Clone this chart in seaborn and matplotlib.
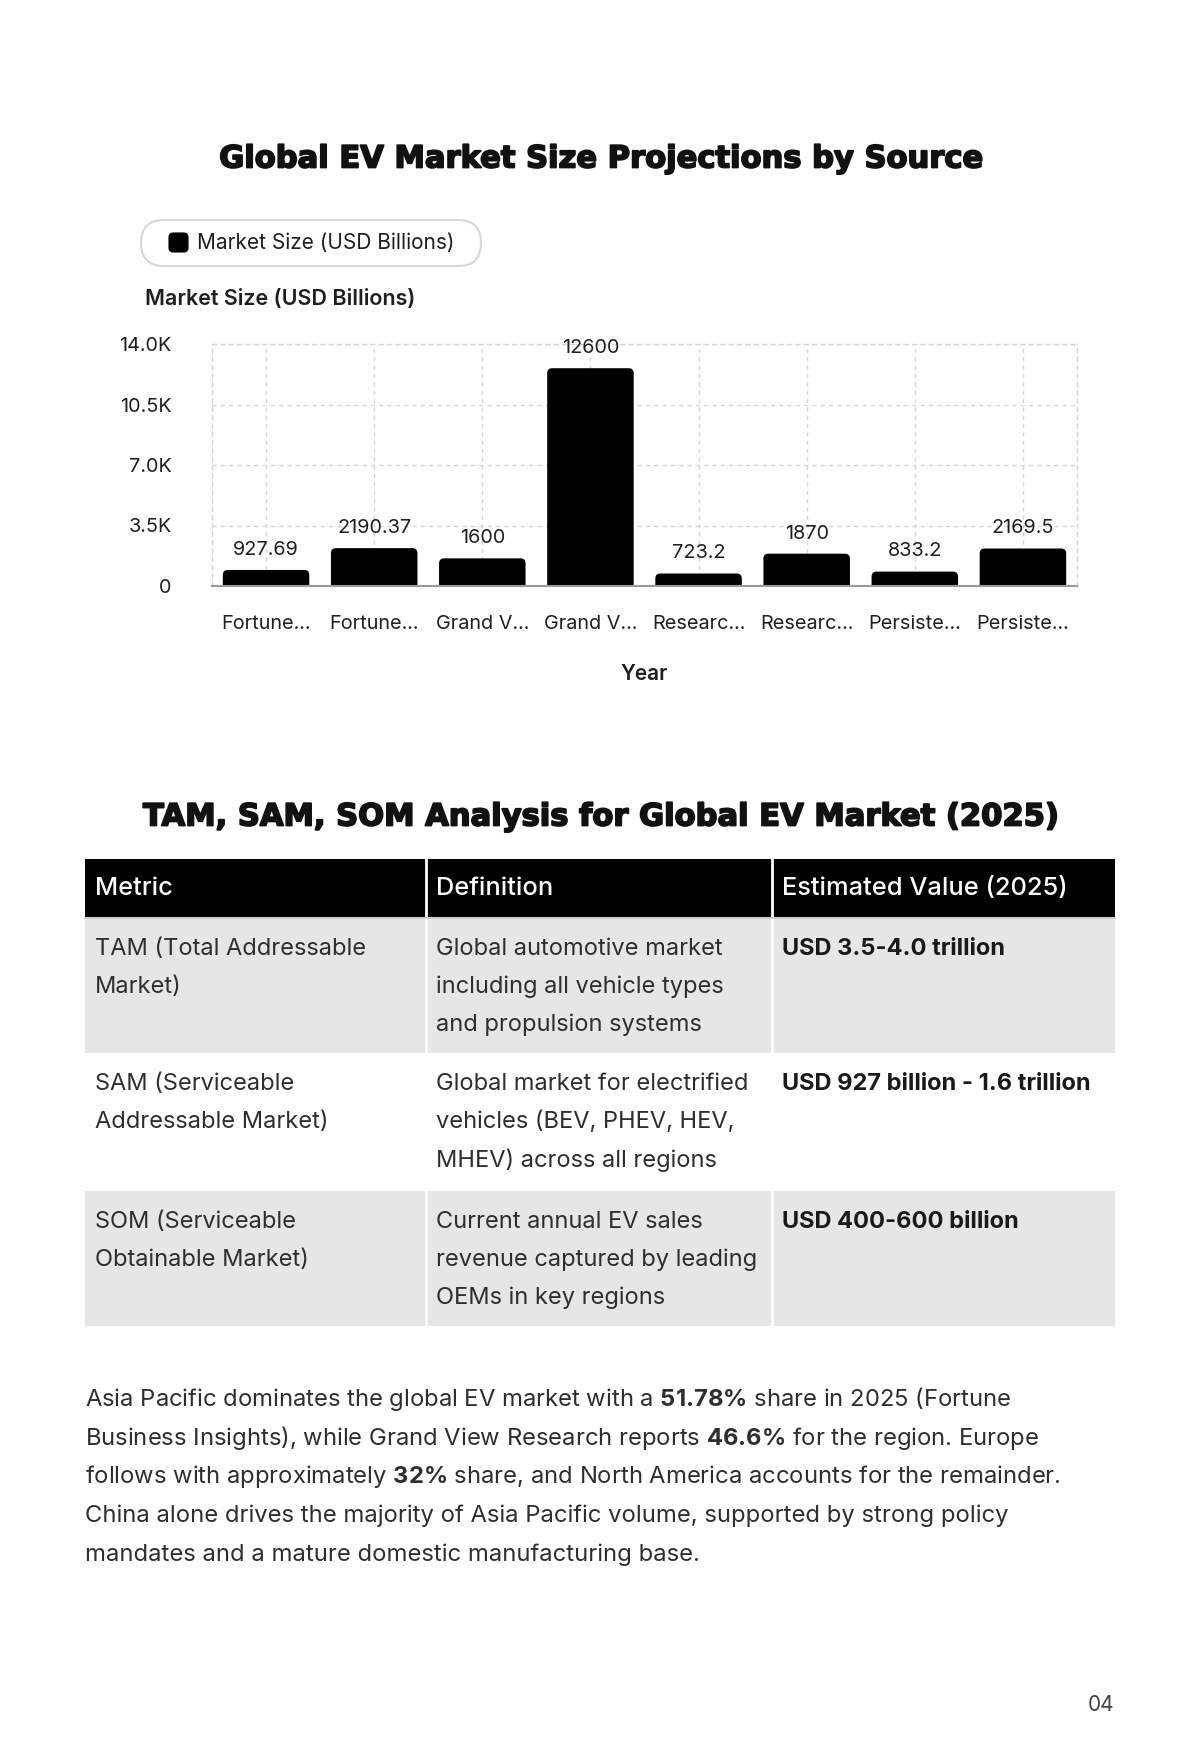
import matplotlib
matplotlib.use("Agg")
import matplotlib.pyplot as plt
import matplotlib.patheffects as pe
import pandas as pd
import seaborn as sns
from matplotlib.patches import FancyBboxPatch, Rectangle
from matplotlib.lines import Line2D
from matplotlib.ticker import FuncFormatter

# ---- chart data ----
sources = ["Fortune Business Insights 2025", "Fortune Business Insights 2032",
           "Grand View Research 2025", "Grand View Research 2033",
           "Research and Markets 2025", "Research and Markets 2030",
           "Persistence Market Research 2025", "Persistence Market Research 2032"]
tick_labels = ["Fortune...", "Fortune...", "Grand V...", "Grand V...",
               "Researc...", "Researc...", "Persiste...", "Persiste..."]
market_size = [927.69, 2190.37, 1600, 12600, 723.2, 1870, 833.2, 2169.5]
y_ticks = [0, 3500, 7000, 10500, 14000]

# ---- table data ----
table_header = ["Metric", "Definition", "Estimated Value (2025)"]
metrics = ["TAM (Total Addressable\nMarket)",
           "SAM (Serviceable\nAddressable Market)",
           "SOM (Serviceable\nObtainable Market)"]
definitions = ["Global automotive market\nincluding all vehicle types\nand propulsion systems",
               "Global market for electrified\nvehicles (BEV, PHEV, HEV,\nMHEV) across all regions",
               "Current annual EV sales\nrevenue captured by leading\nOEMs in key regions"]
estimates = ["USD 3.5-4.0 trillion", "USD 927 billion - 1.6 trillion", "USD 400-600 billion"]

paragraph = [
    r"Asia Pacific dominates the global EV market with a $\bf{51.78\%}$ share in 2025 (Fortune",
    r"Business Insights), while Grand View Research reports $\bf{46.6\%}$ for the region. Europe",
    r"follows with approximately $\bf{32\%}$ share, and North America accounts for the remainder.",
    r"China alone drives the majority of Asia Pacific volume, supported by strong policy",
    r"mandates and a mature domestic manufacturing base.",
]

sns.set_theme(style="white")
plt.rcParams["font.family"] = ["Inter", "DejaVu Sans"]
plt.rcParams["mathtext.fontset"] = "custom"
plt.rcParams["mathtext.rm"] = "Inter"
plt.rcParams["mathtext.bf"] = "Inter:bold"

W, H = 1200, 1754
fig = plt.figure(figsize=(W / 100, H / 100), dpi=100)
fig.patch.set_facecolor("white")

# page axes in pixel coordinates
page = fig.add_axes([0, 0, 1, 1])
page.set_xlim(0, W)
page.set_ylim(H, 0)
page.axis("off")

TXT = "#1f1f1f"
BODY = "#2e2e2e"
TITLE_FONT = dict(family="DejaVu Sans", fontweight="bold", fontsize=22, color="#111111",
                  path_effects=[pe.withStroke(linewidth=1.3, foreground="#111111")])
page.text(600, 159, "Global EV Market Size Projections by Source", ha="center", va="center",
          **TITLE_FONT)
page.text(145, 299, "Market Size (USD Billions)", ha="left", va="center",
          fontsize=15.5, fontweight="semibold", color=TXT)

# ---- bar chart ----
L, R, T, B = 212, 1077, 344, 586
ax = fig.add_axes([L / W, 1 - B / H, (R - L) / W, (B - T) / H])
ax.patch.set_alpha(0)
df = pd.DataFrame({"source": sources, "value": market_size})
sns.barplot(data=df, x="source", y="value", color="black", width=0.8, ax=ax)
ax.set_ylim(0, 14000)
ax.set_xlim(-0.5, len(sources) - 0.5)

# rounded tops
x_per_px = len(sources) / (R - L)
y_per_px = 14000 / (B - T)
rad = 5 * x_per_px
for p in list(ax.patches):
    x0, w, h = p.get_x(), p.get_width(), p.get_height()
    p.set_visible(False)
    ext = 6 * y_per_px
    fb = FancyBboxPatch((x0, -ext), w, h + ext,
                        boxstyle=f"round,pad=0,rounding_size={rad}",
                        mutation_aspect=y_per_px / x_per_px,
                        fc="black", ec="none", zorder=2)
    ax.add_patch(fb)
    ax.annotate(f"{h:g}", (x0 + w / 2, h), xytext=(0, 14.5), textcoords="offset points",
                ha="center", va="center", fontsize=14.3, color=TXT)

ax.set_yticks(y_ticks)
ax.yaxis.set_major_formatter(FuncFormatter(lambda v, _: "0" if v == 0 else f"{v / 1000:.1f}K"))
ax.set_xticks(range(len(sources)))
ax.set_xticklabels(tick_labels)
ax.tick_params(axis="both", length=0, labelsize=14.3, colors=TXT)
ax.tick_params(axis="x", pad=21)
ax.tick_params(axis="y", pad=29)
ax.set_ylabel("")
ax.set_xlabel("Year", fontsize=15, fontweight="semibold", color=TXT, labelpad=22)
ax.grid(True, linestyle=(0, (3, 3)), color="#d6d6d6", lw=1)
ax.set_axisbelow(True)
for s in ["left", "right", "top"]:
    ax.spines[s].set_visible(True)
    ax.spines[s].set_linestyle((0, (3, 3)))
    ax.spines[s].set_color("#d6d6d6")
    ax.spines[s].set_linewidth(1)
ax.spines["bottom"].set_color("#9a9a9a")
ax.spines["bottom"].set_linewidth(1.5)
ax.spines["bottom"].set_zorder(5)

# legend: pill frame + rounded swatch
page.add_patch(FancyBboxPatch((141, 220), 340, 46, boxstyle="round,pad=0,rounding_size=23",
                              fc="white", ec="#d3d8de", lw=1.5))
swatch = FancyBboxPatch((-0.5, -0.5), 1, 1, boxstyle="round,pad=0,rounding_size=0.22").get_path()
handle = Line2D([], [], marker=swatch, ls="", color="black", markersize=13.5)
leg = ax.legend([handle], ["Market Size (USD Billions)"], loc="center left",
                bbox_to_anchor=(168 / W, 1 - 243 / H), bbox_transform=fig.transFigure,
                fontsize=15, frameon=False, borderpad=0, handletextpad=0.4,
                handlelength=1.0, borderaxespad=0)
for t in leg.get_texts():
    t.set_color(TXT)

# ---- table ----
page.text(600, 817, "TAM, SAM, SOM Analysis for Global EV Market (2025)", ha="center",
          va="center", **TITLE_FONT)
col_x = [85, 426, 772, 1115]
row_y = [859, 918, 1053, 1191, 1326]
for i in range(3):
    page.add_patch(Rectangle((col_x[i], row_y[0]), col_x[i + 1] - col_x[i], row_y[1] - row_y[0],
                             fc="black", ec="none"))
    page.text(col_x[i] + 10, (row_y[0] + row_y[1]) / 2, table_header[i], ha="left", va="center",
              fontsize=18.3, fontweight="medium", color="white")
body_bg = ["#e6e6e6", "white", "#e6e6e6"]
for r in range(3):
    y0, y1 = row_y[r + 1], row_y[r + 2]
    page.add_patch(Rectangle((col_x[0], y0), col_x[3] - col_x[0], y1 - y0, fc=body_bg[r], ec="none"))
    cells = [metrics[r], definitions[r], estimates[r]]
    for c in range(3):
        for k, line in enumerate(cells[c].split("\n")):
            page.text(col_x[c] + 10, y0 + 31 + 38 * k, line, ha="left", va="center",
                      fontsize=17, color=BODY if c < 2 else "#1a1a1a",
                      fontweight="bold" if c == 2 else "normal")
for cx in col_x[1:3]:
    page.plot([cx, cx], [row_y[0], row_y[-1]], color="white", lw=2)
page.plot([col_x[0], col_x[3]], [row_y[1], row_y[1]], color="#cccccc", lw=1.5)

# ---- paragraph ----
for k, line in enumerate(paragraph):
    page.text(85, 1399 + 39 * k, line, ha="left", va="center", fontsize=17.15, color=BODY)

page.text(1114, 1705, "04", ha="right", va="center", fontsize=15, color="#444444")

fig.savefig("out.png", dpi=100, facecolor="white")
